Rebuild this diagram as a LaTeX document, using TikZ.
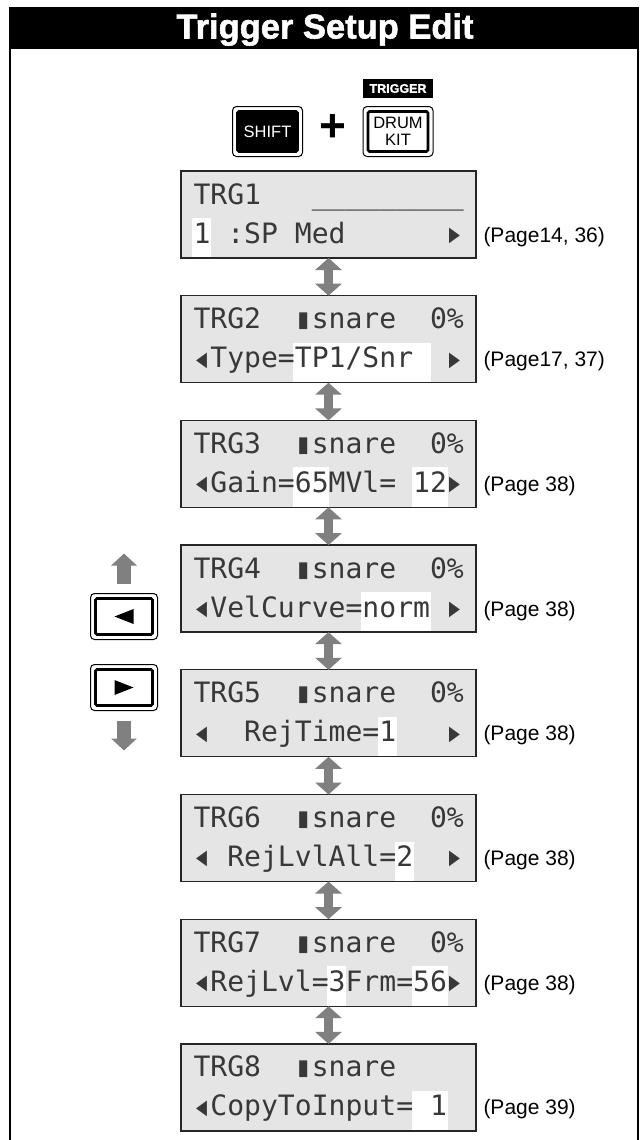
\documentclass[tikz,border=0pt]{standalone}
\usepackage{fontspec}
\usepackage{graphicx}
\setmainfont{Liberation Sans}
\newfontfamily\lcdfont{DejaVu Sans Mono}
\newfontfamily\heavyfont[FakeBold=1.6]{Liberation Sans Bold}
\newcommand\lcdl{\makebox[0.602em]{\raisebox{-0.12em}{\scalebox{1}[1.45]{◂}}}}
\newcommand\lcdr{\makebox[0.602em]{\raisebox{-0.12em}{\scalebox{1}[1.45]{▸}}}}
\usetikzlibrary{arrows.meta}

\begin{document}
\begin{tikzpicture}[x=1pt,y=-1pt,line width=1pt,
  lcd/.style={draw=black!85,line width=1.3pt,fill=black!10,minimum width=295pt,minimum height=87pt,inner sep=0pt,outer sep=0pt},
  lcdtxt/.style={anchor=base west,inner sep=0pt,text=black!78,font=\lcdfont\fontsize{28.07}{30}\selectfont},
  page/.style={anchor=base west,inner sep=0pt,font=\fontsize{21}{24}\selectfont},
  keyin/.style={draw,line width=2.6pt,rounded corners=1.5pt,inner sep=0pt,outer sep=0pt,align=center,font=\fontsize{16.5}{17}\selectfont},
  updown/.style={line width=9pt,black!50,{Triangle[width=26pt,length=12pt]}-{Triangle[width=26pt,length=12pt]}},
  move/.style={line width=14pt,black!50,-{Triangle[width=25pt,length=12pt]}}]
  \useasboundingbox (0,0) rectangle (642,1140);
  % title bar and frame
  \fill (8.75,7) rectangle (639.25,49);
  \node[text=white,font=\heavyfont\fontsize{34.5}{40}\selectfont,anchor=base,inner sep=0pt] (title) at (325,38.5) {Trigger Setup Edit};
  \draw[line width=2.5pt] (10,7) -- (10,1140) (638,7) -- (638,1140);
  % keys
  \node[keyin,fill=black,text=white,minimum width=60pt,minimum height=40pt] (shift) at (267.5,131.5) {SHIFT};
  \node[keyin,minimum width=60pt,minimum height=40pt] (drum) at (398,131.5) {DRUM\\KIT};
  \node[fill=black,text=white,font=\heavyfont\fontsize{12.5}{13}\selectfont,minimum width=70pt,minimum height=19pt,inner sep=0pt] (trig) at (398,88.5) {TRIGGER};
  \node[font=\bfseries\fontsize{46}{46}\selectfont,inner sep=0pt] (plus) at (333,128.5) {+};
  \node[keyin,minimum width=57pt,minimum height=36pt] (kleft) at (124,616.5) {};
  \node[keyin,minimum width=57pt,minimum height=36pt] (kright) at (124,687.5) {};
  \foreach \k in {shift,drum,kleft,kright}
    \draw[rounded corners=4pt] ([xshift=-5pt,yshift=5pt]\k.north west) rectangle ([xshift=5pt,yshift=-5pt]\k.south east);
  \fill (kleft.center) ++(-9.5,0) -- ++(19,-7.5) -- ++(0,15) -- cycle;
  \fill (kright.center) ++(9.5,0) -- ++(-19,-7.5) -- ++(0,15) -- cycle;
  \draw[move] ([yshift=15pt]kleft.north) -- ([yshift=45pt]kleft.north);
  \draw[move] ([yshift=-15pt]kright.south) -- ([yshift=-45pt]kright.south);
  % displays
  \foreach \n/\t in {1/171,2/295.7,3/420.4,4/545.1,5/669.8,6/794.5,7/919.2,8/1043.9}
    \node[lcd] (lcd\n) at (328.5,\t+43.5) {};
  % highlighted values
  \foreach \t/\a/\b in {171/0/0,295.7/6/13,420.4/6/7,420.4/13/14,545.1/10/13,669.8/11/11,794.5/12/12,919.2/8/8,919.2/13/14,1043.9/13/14}
    \fill[white] (192+16.9*\a,\t+47) rectangle (194+16.9*\b+16.9,\t+86.3);
  \foreach \n/\t/\la/\lb/\pg in {
      1/171/{TRG1~~~\_\_\_\_\_\_\_\_\_}/{1~:SP~Med~~~~~~\lcdr}/{(Page14, 36)},
      2/295.7/{TRG2~~▮snare~~0\%}/{\lcdl Type=TP1/Snr~~\lcdr}/{(Page17, 37)},
      3/420.4/{TRG3~~▮snare~~0\%}/{\lcdl Gain=65MVl=~12\lcdr}/{(Page 38)},
      4/545.1/{TRG4~~▮snare~~0\%}/{\lcdl VelCurve=norm~\lcdr}/{(Page 38)},
      5/669.8/{TRG5~~▮snare~~0\%}/{\lcdl~~RejTime=1~~~\lcdr}/{(Page 38)},
      6/794.5/{TRG6~~▮snare~~0\%}/{\lcdl~RejLvlAll=2~~\lcdr}/{(Page 38)},
      7/919.2/{TRG7~~▮snare~~0\%}/{\lcdl RejLvl=3Frm=56\lcdr}/{(Page 38)},
      8/1043.9/{TRG8~~▮snare}/{\lcdl CopyToInput=~1~}/{(Page 39)}}{
    \node[lcdtxt] (txt\n-a) at (193,\t+33) {\la};
    \node[lcdtxt] (txt\n-b) at (193,\t+72) {\lb};
    \node[page] (pg\n) at (483,\t+71) {\pg};
  }
  \foreach \a/\b in {1/2,2/3,3/4,4/5,5/6,6/7,7/8}
    \draw[updown] (lcd\a) -- (lcd\b);
\end{tikzpicture}
\end{document}
